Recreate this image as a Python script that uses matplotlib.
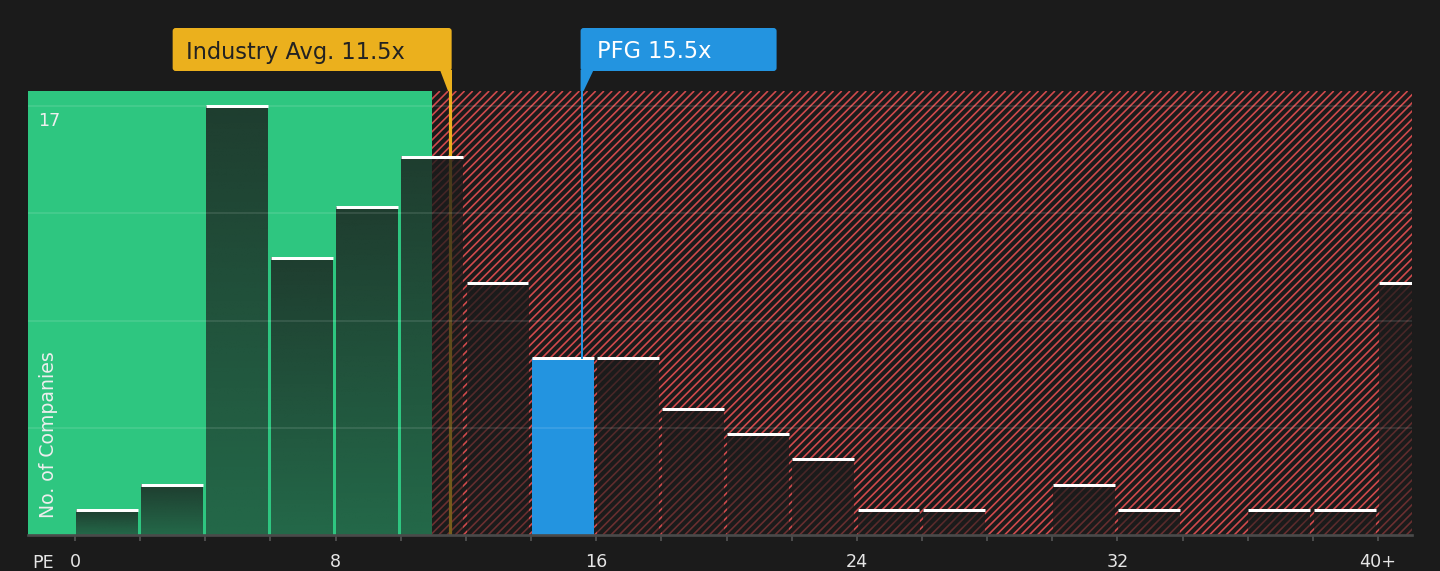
import numpy as np
import matplotlib.pyplot as plt
import matplotlib.transforms as mtransforms
from matplotlib.patches import FancyBboxPatch, Polygon
from matplotlib.collections import LineCollection

# Data: PE distribution (2-wide bins, last one is 40+)
bin_left = list(range(0, 42, 2))
counts = [1, 2, 17, 11, 13, 15, 10, 7, 7, 5, 4, 3, 1, 1, 0, 2, 1, 0, 1, 1, 10]
tick_values = [0, 8, 16, 24, 32, 40]
tick_labels = ['0', '8', '16', '24', '32', '40+']
industry_avg = 11.5
company_pe = 15.55
company_label = 'PFG 15.5x'
fair_edge = 10.95

BG = '#1b1b1b'
GREEN = '#2ec680'
RED = '#d04a4c'
GOLD = '#ebb01d'
BLUE = '#2394e0'

DPI = 120
plt.rcParams['font.family'] = 'DejaVu Sans'

fig = plt.figure(figsize=(1440 / DPI, 571 / DPI), dpi=DPI, facecolor=BG)
ax = fig.add_axes([28 / 1440, 36 / 571, 1384 / 1440, 444 / 571])
ax.set_facecolor(BG)

xmin, xmax = -1.443, 41.04
ymax = 17.6
ax.set_xlim(xmin, xmax)
ax.set_ylim(0, ymax)

# background zones
ax.axvspan(xmin, fair_edge, color=GREEN, lw=0, zorder=0)
red_zone = ax.axvspan(fair_edge, xmax, facecolor=BG, lw=0, zorder=0)

# diagonal stripes over the red zone, drawn in pixel space
ident = mtransforms.IdentityTransform()
(px0, py0), (px1, py1) = ax.transData.transform([(fair_edge, 0), (xmax, ymax)])
h = py1 - py0
segs = [[(x, py0), (x + h, py1)] for x in np.arange(px0 - h, px1 + 8, 8.2)]
stripes = LineCollection(segs, colors=RED, linewidths=1.0, transform=ident, zorder=0.5)
ax.add_collection(stripes)
stripes.set_clip_path(red_zone)

# industry average line (under the bars)
ax.axvline(industry_avg, color=GOLD, lw=1.9, zorder=1)

# bars with vertical gradient
width = 1.9
pfg_idx = int(company_pe // 2)
grad = np.zeros((64, 1, 4))
grad[:, 0, :3] = np.array([27, 27, 27]) / 255
grad[:, 0, 3] = np.linspace(0.55, 0.8, 64)  # bottom -> top
for i, (x, c) in enumerate(zip(bin_left, counts)):
    if c == 0:
        continue
    cx = x + 0.97
    if i == pfg_idx:
        ax.bar(cx, c, width=width, color=BLUE, lw=0, zorder=3)
    else:
        ax.imshow(grad, extent=(cx - width / 2, cx + width / 2, 0, c), origin='lower',
                  aspect='auto', interpolation='bilinear', zorder=2)
    ax.hlines(c, cx - width / 2, cx + width / 2, color='white', lw=1.8, zorder=4)

# company line
ax.axvline(company_pe, ymin=counts[pfg_idx] / ymax, color=BLUE, lw=1.2, zorder=4)

# grid at quarters of the max
top = max(counts)
for g in [top * 0.25, top * 0.5, top * 0.75, top]:
    ax.axhline(g, color='white', alpha=0.1, lw=1.2, zorder=5)

ax.set_xlim(xmin, xmax)
ax.set_ylim(0, ymax)

for s in ['top', 'left', 'right']:
    ax.spines[s].set_visible(False)
ax.spines['bottom'].set_color('#4a4a4a')
ax.spines['bottom'].set_linewidth(1.6)
ax.spines['bottom'].set_zorder(6)
ax.set_yticks([])
ax.set_xticks(bin_left)
ax.set_xticklabels([tick_labels[tick_values.index(v)] if v in tick_values else '' for v in bin_left])
ax.tick_params(axis='x', colors='#555555', length=3.6, width=1, pad=7,
               labelcolor='#e6e6e6', labelsize=10.5)

ax.text(0.0075, top - 0.25, str(top), transform=mtransforms.blended_transform_factory(ax.transAxes, ax.transData),
        color='#eeeeee', fontsize=10.5, ha='left', va='top', zorder=7)
ax.text(0.0145, 0.038, 'No. of Companies', transform=ax.transAxes, rotation=90,
        color='#eeeeee', fontsize=11.3, ha='center', va='bottom', zorder=7)
fig.text(32 / 1440, 1 - 563 / 571, 'PE', color='#e6e6e6', fontsize=10.5, ha='left', va='center')

# annotation boxes in pixel coordinates
xi = ax.transData.transform((industry_avg, 0))[0]
xp = ax.transData.transform((company_pe, 0))[0]
box_top, box_bot, ax_top = 571 - 28, 571 - 71, 571 - 91

fig.add_artist(FancyBboxPatch((xi - 277, box_bot), 279, box_top - box_bot,
                              boxstyle='round,pad=0,rounding_size=3', fc=GOLD, ec='none', transform=ident))
fig.add_artist(Polygon([(xi - 10, box_bot + 1), (xi + 2, box_bot + 1), (xi + 2, ax_top), (xi - 2, ax_top)],
                       closed=True, fc=GOLD, ec='none', transform=ident))
fig.text(xi - 264, (box_top + box_bot) / 2, f'Industry Avg. {industry_avg}x', color='#222222',
         fontsize=13.5, ha='left', va='center_baseline', transform=ident)

fig.add_artist(FancyBboxPatch((xp - 1, box_bot), 196, box_top - box_bot,
                              boxstyle='round,pad=0,rounding_size=3', fc=BLUE, ec='none', transform=ident))
fig.add_artist(Polygon([(xp - 1, box_bot + 1), (xp + 12, box_bot + 1), (xp + 2, ax_top), (xp - 1, ax_top)],
                       closed=True, fc=BLUE, ec='none', transform=ident))
fig.text(xp + 15, (box_top + box_bot) / 2, company_label, color='white',
         fontsize=13.5, ha='left', va='center_baseline', transform=ident)

fig.savefig('out.png', dpi=DPI, facecolor=BG)
